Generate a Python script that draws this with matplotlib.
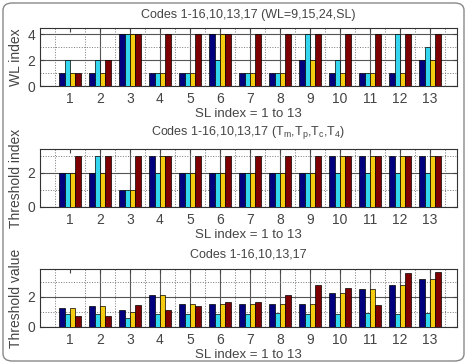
import matplotlib
matplotlib.use("Agg")
import matplotlib.pyplot as plt
from matplotlib.patches import FancyBboxPatch
import numpy as np

plt.rcParams['font.family'] = ['Liberation Sans', 'DejaVu Sans']
plt.rcParams['mathtext.default'] = 'regular'

sl = np.arange(1, 14)
colors = ['#00007f', '#33d6ee', '#f5cc10', '#7f0000']

# WL index, one list per code series
wl = [
    [1, 1, 4, 1, 1, 4, 1, 1, 2, 1, 1, 1, 2],
    [2, 2, 4, 1, 1, 2, 1, 1, 4, 2, 1, 4, 3],
    [1, 1, 4, 1, 1, 4, 1, 1, 2, 1, 1, 1, 2],
    [1, 2, 4, 4, 4, 4, 4, 4, 4, 4, 4, 4, 4],
]
# threshold index (Tm, Tp, Tc, T4)
th_idx = [
    [2, 2, 1, 3, 2, 2, 2, 2, 2, 3, 3, 3, 3],
    [2, 3, 1, 2, 2, 2, 2, 2, 2, 2, 2, 2, 2],
    [2, 2, 1, 3, 2, 2, 2, 2, 2, 3, 3, 3, 3],
    [3, 3, 3, 3, 3, 3, 3, 3, 3, 3, 3, 3, 3],
]
# threshold value
th_val = [
    [1.27, 1.38, 1.16, 2.11, 1.53, 1.53, 1.53, 1.53, 1.53, 2.29, 2.53, 2.80, 3.18],
    [0.84, 0.89, 0.58, 0.89, 0.89, 0.89, 0.89, 0.96, 0.89, 0.89, 0.96, 0.89, 0.96],
    [1.27, 1.38, 1.00, 2.11, 1.53, 1.53, 1.53, 1.53, 1.53, 2.29, 2.53, 2.80, 3.18],
    [0.73, 0.73, 1.47, 1.11, 1.38, 1.64, 1.64, 2.11, 2.80, 2.60, 1.47, 3.58, 3.67],
]

titles = ['Codes 1-16,10,13,17 (WL=9,15,24,SL)',
          'Codes 1-16,10,13,17 (T$_m$,T$_p$,T$_c$,T$_4$)',
          'Codes 1-16,10,13,17']
ylabels = ['WL index', 'Threshold index', 'Threshold value']
ylims = [4.5, 3.4, 3.85]
yticks = [[0, 2, 4], [0, 2], [0, 2]]
yminor = [[1, 3], [1, 3], [1, 3]]
title_pads = [7, 10, 8]

W, H = 467, 364
fig = plt.figure(figsize=(W / 100, H / 100), dpi=100)
fig.patches.append(FancyBboxPatch((3 / W, 3 / H), 1 - 6 / W, 1 - 6 / H,
                                  boxstyle="round,pad=0,rounding_size=0.02",
                                  transform=fig.transFigure, fill=False,
                                  edgecolor='#888888', lw=1.0))

# axes boxes in pixels: (top, bottom)
boxes = [(28, 86), (149, 207), (269, 327)]
left, right = 40, 457
txt = '#444444'
width = 0.18
offsets = [-0.27, -0.09, 0.09, 0.27]

for k, data in enumerate([wl, th_idx, th_val]):
    top, bot = boxes[k]
    ax = fig.add_axes([left / W, 1 - bot / H, (right - left) / W, (bot - top) / H])
    for s in range(4):
        ax.bar(sl + offsets[s], data[s], width=width, color=colors[s],
               edgecolor='black', linewidth=0.5, zorder=3)
    ax.set_xlim(0, 13.9)
    ax.set_ylim(0, ylims[k])
    ax.set_xticks(sl)
    ax.set_xticks(np.arange(0.5, 14, 1), minor=True)
    ax.set_yticks(yticks[k])
    ax.set_yticks(yminor[k], minor=True)
    ax.grid(True, which='major', color='#555555', lw=0.8, ls='-', zorder=0)
    ax.grid(True, which='minor', color='#777777', lw=0.7, ls=':', zorder=0)
    ax.xaxis.get_gridlines()[0].set_visible(False)
    ax.tick_params(which='both', direction='in', top=True, right=True,
                   labelsize=10, colors=txt, length=3)
    ax.tick_params(which='minor', length=0)
    ax.tick_params(axis='x', pad=4)
    for sp in ax.spines.values():
        sp.set_color('#333333')
        sp.set_linewidth(0.8)
    ax.set_title(titles[k], fontsize=9, color=txt, pad=title_pads[k])
    ax.set_xlabel('SL index = 1 to 13', fontsize=9.5, color=txt, labelpad=2)
    ax.set_ylabel(ylabels[k], fontsize=10, color=txt, labelpad=3)

fig.savefig('out.png', dpi=100)
